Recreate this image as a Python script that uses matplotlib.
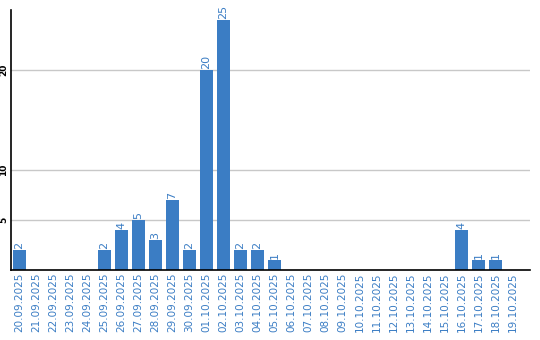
import matplotlib

matplotlib.use("Agg")
import matplotlib.pyplot as plt

DATES = [
    "20.09.2025", "21.09.2025", "22.09.2025", "23.09.2025", "24.09.2025",
    "25.09.2025", "26.09.2025", "27.09.2025", "28.09.2025", "29.09.2025",
    "30.09.2025", "01.10.2025", "02.10.2025", "03.10.2025", "04.10.2025",
    "05.10.2025", "06.10.2025", "07.10.2025", "08.10.2025", "09.10.2025",
    "10.10.2025", "11.10.2025", "12.10.2025", "13.10.2025", "14.10.2025",
    "15.10.2025", "16.10.2025", "17.10.2025", "18.10.2025", "19.10.2025",
]
COUNTS = [2, 0, 0, 0, 0, 2, 4, 5, 3, 7, 2, 20, 25, 2, 2, 1, 0, 0, 0, 0,
          0, 0, 0, 0, 0, 0, 4, 1, 1, 0]
Y_TICKS = [5, 10, 20]

BLUE = "#3b7dc4"

fig = plt.figure(figsize=(5.4, 3.4), dpi=100)
ax = fig.add_axes([11 / 540, 70 / 340, 519 / 540, 260 / 340])

x = list(range(len(DATES)))
bars = ax.bar(x, COUNTS, width=0.82, color=BLUE, zorder=2)
for bar, value in zip(bars, COUNTS):
    if value <= 0:
        continue
    ax.annotate(
        str(value),
        (bar.get_x() + bar.get_width() / 2, bar.get_height()),
        textcoords="offset points",
        xytext=(0, 1),
        ha="center",
        va="bottom",
        rotation=90,
        fontsize=8,
        color=BLUE,
    )

ax.set_xlim(-0.5, len(DATES) + 0.03)
ax.set_ylim(0, 26)
ax.set_xticks(x)
ax.set_xticklabels(DATES, rotation=90, fontsize=7.5, color=BLUE)
ax.set_yticks(Y_TICKS)
ax.set_yticklabels([str(t) for t in Y_TICKS], rotation=90, fontsize=6.5,
                   fontweight="bold", va="center")
ax.tick_params(axis="both", length=0, pad=2)
ax.grid(axis="y", color="#c8c8c8", linewidth=1, zorder=0)
for side in ("top", "right"):
    ax.spines[side].set_visible(False)
ax.spines["left"].set_color("black")
ax.spines["bottom"].set_color("black")
ax.spines["left"].set_linewidth(1.2)
ax.spines["bottom"].set_linewidth(1.2)

fig.savefig("out.png", dpi=100)
